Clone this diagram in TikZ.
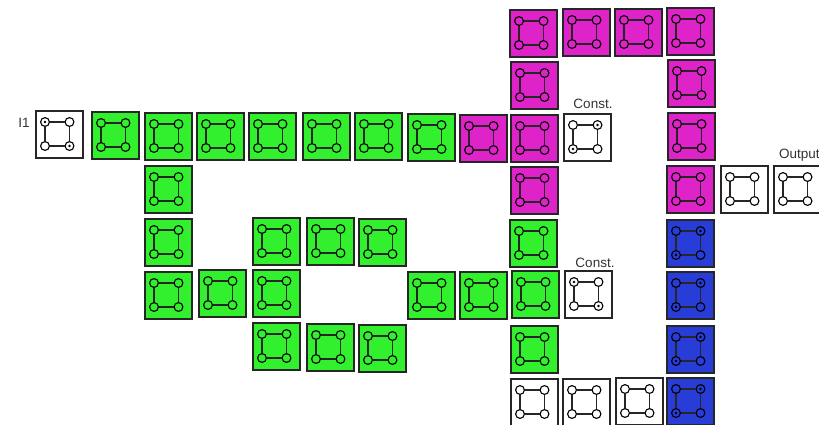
\documentclass[tikz,border=0pt]{standalone}
\usepackage{fontspec}
\setmainfont{Liberation Sans}
\usepackage{tikz}
\definecolor{cellgreen}{RGB}{50,240,45}
\definecolor{cellmagenta}{RGB}{222,35,200}
\definecolor{cellblue}{RGB}{40,60,215}
\tikzset{
	cellbox/.style={draw=black!85,line width=2pt,minimum size=47pt,inner sep=0pt,outer sep=0pt,anchor=north west},
	port/.style={circle,draw=black,line width=1.1pt,minimum size=8.8pt,inner sep=0pt},
	wire/.style={draw=black!85,line width=1.2pt},
	caption/.style={font=\fontsize{13.5}{15}\selectfont,text=black!80,inner sep=0pt},
	pics/cell/.style={code={
		\node[cellbox,fill=#1] (-box) at (0.8,0.8) {};
		\node[port] (-a) at (10,12) {};
		\node[port] (-b) at (34.5,12) {};
		\node[port] (-c) at (10,36) {};
		\node[port] (-d) at (34.5,36) {};
		\draw[wire] (-a)--(-b)--(-d)--(-c)--(-a);
	}}
}
\begin{document}
\begin{tikzpicture}[x=1pt,y=-1pt]
	\clip (0,0) rectangle (819,425);
	% White cells
	\foreach \N/\X/\Y in {input/35/110, consta/563/113, constb/564/270, outa/720/165, outb/773/165,
			wa/510/378, wb/562/378, wc/615/377} {
		\pic (\N) at (\X,\Y) {cell=white};
	}
	% Green cells
	\foreach \N/\X/\Y in {ga/91/111, gb/144/112, gc/196/112, gd/248/112, ge/302/112, gf/354/112, gg/407/113,
			gh/144/165, gi/144/218, gj/144/271, gk/198/269, gl/252/269, gm/252/217, gn/306/217, go/358/218,
			gp/252/322, gq/306/323, gr/358/324, gs/407/271, gt/459/271,
			gu/509/219, gv/511/270, gw/510/325} {
		\pic (\N) at (\X,\Y) {cell=cellgreen};
	}
	% Magenta cells
	\foreach \N/\X/\Y in {ma/459/114, mb/510/114, mc/510/61, md/509/9, me/562/8, mf/614/8, mg/666/7,
			mh/667/59, mi/667/112, mj/666/165, mk/510/166} {
		\pic (\N) at (\X,\Y) {cell=cellmagenta};
	}
	% Blue cells
	\foreach \N/\X/\Y in {ba/666/219, bb/666/271, bc/666/325, bd/666/377} {
		\pic (\N) at (\X,\Y) {cell=cellblue};
	}
	% Marked ports
	\foreach \P in {input-a, input-d, consta-b, consta-c, constb-a, constb-d,
			ba-b, ba-c, bb-b, bb-c, bc-b, bc-c, bd-b, bd-c} {
		\fill[black] (\P) circle (1.4);
	}
	% Labels
	\node[caption] (inputlabel) at (24,123) {I1};
	\node[caption] (constalabel) at (593,104) {Const.};
	\node[caption] (constblabel) at (595,263) {Const.};
	\node[caption,anchor=west] (outlabel) at (779,155.5) {Output};
\end{tikzpicture}
\end{document}
